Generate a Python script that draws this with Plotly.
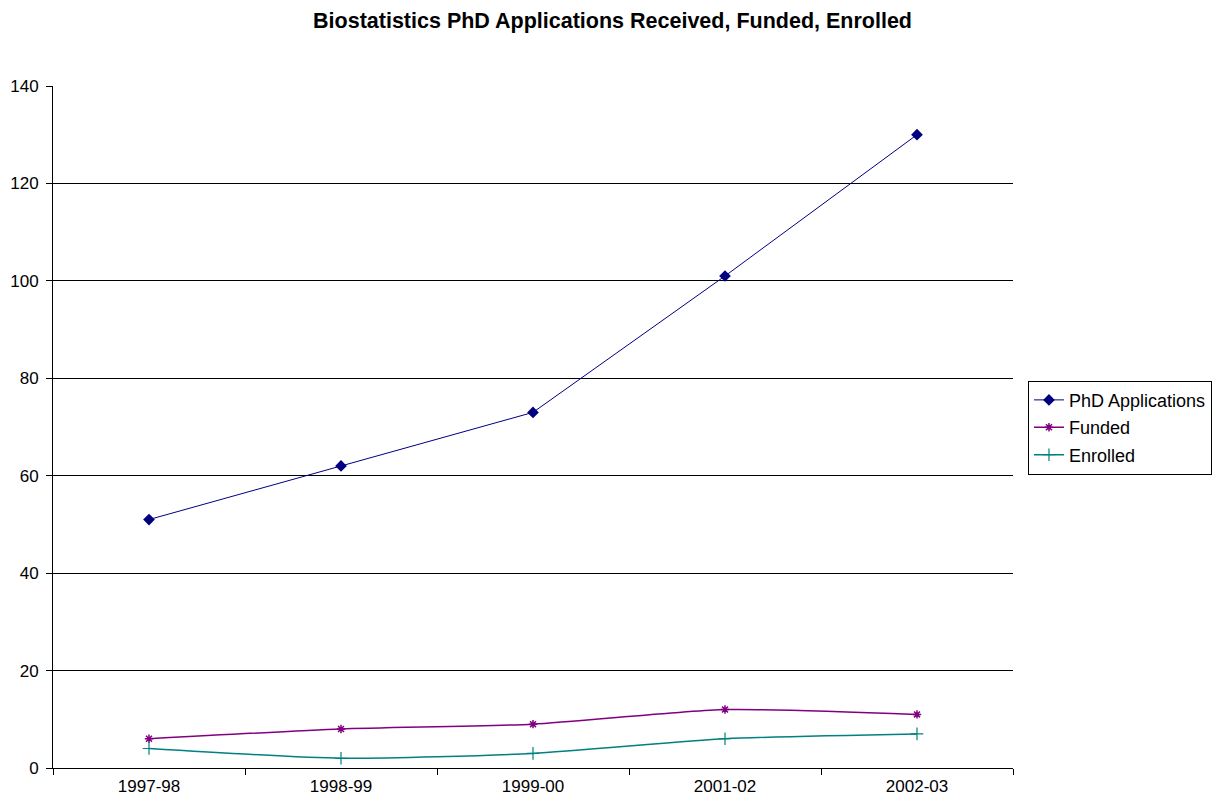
import plotly.graph_objects as go

years = ["1997-98", "1998-99", "1999-00", "2001-02", "2002-03"]
applications = [51, 62, 73, 101, 130]
funded = [6, 8, 9, 12, 11]
enrolled = [4, 2, 3, 6, 7]

fig = go.Figure()
fig.add_trace(go.Scatter(x=years, y=applications, name="PhD Applications", mode="lines+markers",
                         legendgroup="a",
                         line=dict(color="#000080", width=1),
                         marker=dict(symbol="diamond", size=9, color="#000080")))
fig.add_trace(go.Scatter(x=years, y=funded, name="Funded", mode="lines+markers",
                         legendgroup="b",
                         line=dict(color="#800080", width=1.5, shape="spline", smoothing=0.6),
                         marker=dict(symbol="asterisk", size=7, color="#800080",
                                     line=dict(color="#800080", width=1.5))))
fig.add_trace(go.Scatter(x=years, y=enrolled, name="Enrolled", mode="lines+markers",
                         legendgroup="c",
                         line=dict(color="#008080", width=1.5, shape="spline", smoothing=0.6),
                         marker=dict(symbol="cross-thin", size=9, color="#008080",
                                     line=dict(color="#008080", width=1.2))))

fig.update_layout(
    width=1225, height=805,
    paper_bgcolor="white", plot_bgcolor="white",
    margin=dict(l=45, r=220, t=78, b=45),
    font=dict(family="Liberation Sans, Arial, sans-serif", size=17, color="black"),
    title=dict(text="<b>Biostatistics PhD Applications Received, Funded, Enrolled</b>",
               x=0.4935, xanchor="center", y=0.985, yanchor="middle",
               font=dict(size=21.5, color="black")),
    legend=dict(x=1.0156, xanchor="left", y=0.499, yanchor="middle",
                bordercolor="black", borderwidth=1, bgcolor="white",
                font=dict(size=18), traceorder="grouped", tracegroupgap=1),
    showlegend=True,
)
fig.update_xaxes(type="category", range=[-0.5, 4.5], automargin=False,
                 showline=True, linecolor="black", linewidth=1,
                 ticks="outside", tickson="boundaries", ticklen=6, tickcolor="black",
                 showgrid=False, zeroline=False, tickfont=dict(size=17),
                 ticklabelstandoff=3)
fig.update_yaxes(range=[0, 140], dtick=20, automargin=False,
                 showline=True, linecolor="black", linewidth=1,
                 ticks="outside", ticklen=6, tickcolor="black",
                 showgrid=True, gridcolor="black", gridwidth=1, zeroline=False,
                 tickfont=dict(size=17), ticklabelstandoff=4)

fig.write_html("out.html")
